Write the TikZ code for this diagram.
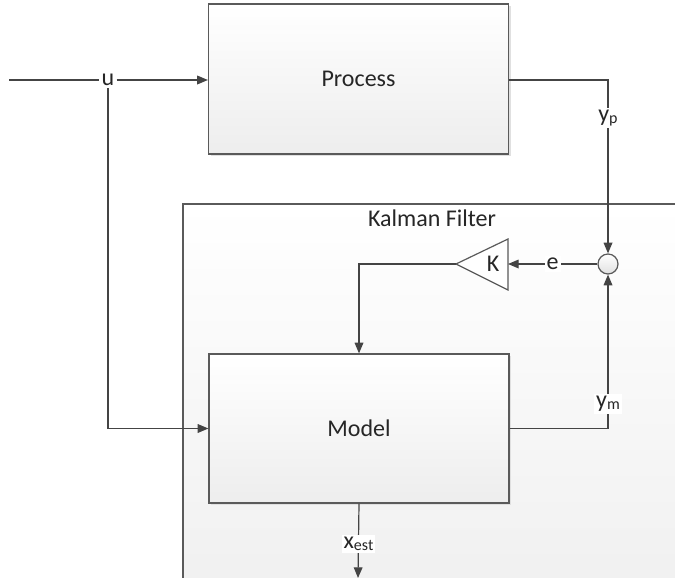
\documentclass[tikz,border=0pt]{standalone}
\usepackage{fontspec}
\setmainfont{Carlito}
\usepackage{tikz}
\usetikzlibrary{arrows.meta,shadows}
\definecolor{wire}{HTML}{444444}
\definecolor{edge}{HTML}{5A5A5A}
\newcommand{\sub}[1]{\raisebox{-1.5pt}{\fontsize{12}{12}\selectfont #1}}

\begin{document}
\begin{tikzpicture}[x=0.75pt,y=-0.75pt]
    \tikzstyle{every node}=[font=\fontsize{18}{22}\selectfont, text=black!85]
    \tikzstyle{block}=[draw=edge, line width=0.9pt, shape=rectangle, top color=white, bottom color=black!7,
        drop shadow={shadow xshift=1.5pt, shadow yshift=-1.5pt, fill=black!12, opacity=1},
        minimum width=225pt]
    \tikzstyle{label}=[fill=white, draw=none, inner sep=1.5pt]
    \tikzstyle{junction}=[shape=circle, draw=edge, line width=0.9pt, minimum size=15pt, inner sep=0pt,
        top color=white, bottom color=black!12]
    \tikzstyle{wire}=[draw=wire, line width=0.9pt]
    \tikzstyle{arrow}=[wire, -{Triangle[length=8pt, width=6.5pt]}]
    \useasboundingbox (0,0) rectangle (675,578);

    % kalman filter frame
    \draw [draw=edge, line width=0.9pt, top color=white, bottom color=black!6] (183,204) rectangle (700,600);
    \node (kftitle) at (432,218) {Kalman Filter};

    \node [style=block, minimum height=112.5pt] (proc) at (358.5,79) {Process};
    \node [style=block, minimum height=111.75pt] (model) at (359,428.5) {Model};
    \node [style=junction] (sum) at (608,264) {};

    % gain triangle
    \coordinate (gtip) at (456,264);
    \coordinate (gbase) at (508,264);
    \draw [draw=edge, line width=0.9pt, fill=white] (gtip) -- (508,239) -- (508,290) -- cycle;
    \node (gain) at (493,264) {K};

    \coordinate (uin) at (9,80);
    \coordinate (xout) at (358,578);
    \node [style=label] (u) at (108,80) {u};

    \draw [style=wire] (uin) -- (u);
    \draw [style=arrow] (u) -- (proc.west |- u);
    \draw [style=arrow] (u) |- (model.west);
    \draw [style=arrow] (proc.east |- u) -| node [style=label, pos=0.61] {y\sub{p}} (sum.north);
    \draw [style=arrow] (model.east) -| node [style=label, pos=0.58] {y\sub{m}} (sum.south);
    \draw [style=arrow] (sum.west) -- node [style=label] {e} (gbase);
    \draw [style=arrow] (gtip) -| (model.north);
    \draw [style=arrow] (model.south) -- node [style=label, pos=0.54] {x\sub{est}} (xout);
\end{tikzpicture}
\end{document}
